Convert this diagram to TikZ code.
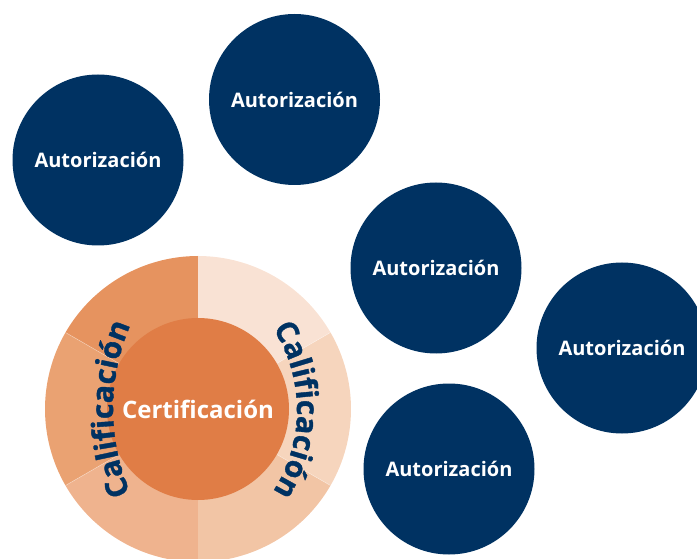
\documentclass[tikz,border=0pt]{standalone}
\usepackage{fontspec}
\setmainfont{Open Sans}
\newfontfamily\calfamily[BoldFeatures={FakeBold=1.2}]{Open Sans}
\usetikzlibrary{decorations.text}
\definecolor{navy}{RGB}{0,50,98}
\definecolor{segTL}{RGB}{230,147,95}
\definecolor{segML}{RGB}{234,162,114}
\definecolor{segBL}{RGB}{239,179,142}
\definecolor{segBR}{RGB}{242,197,165}
\definecolor{segMR}{RGB}{246,213,189}
\definecolor{segTR}{RGB}{249,226,212}
\definecolor{certfill}{RGB}{224,125,70}
\tikzset{
  autcircle/.style={circle, fill=navy, inner sep=0pt, minimum size=171pt,
    text=white, font=\bfseries\fontsize{20}{22}\selectfont},
  certcircle/.style={circle, fill=certfill, inner sep=0pt, minimum size=182pt,
    text=white, font=\bfseries\fontsize{24}{26}\selectfont},
  divider/.style={draw=white, draw opacity=0.35, line width=0.6pt},
  caltext/.style={decorate, decoration={text along path, text align=center,
    text color=navy, text={|\calfamily\bfseries\fontsize{30}{30}\selectfont|Calificación}}}
}
\begin{document}
\begin{tikzpicture}[x=1pt,y=1pt]
\useasboundingbox (0,0) rectangle (697,558);
\clip (0,0) rectangle (697,558);
% ring
\coordinate (rc) at (198,149);
\fill[segTL] (rc) -- ++(90:153) arc (90:150:153) -- cycle;
\fill[segML] (rc) -- ++(150:153) arc (150:210:153) -- cycle;
\fill[segBL] (rc) -- ++(210:153) arc (210:270:153) -- cycle;
\fill[segBR] (rc) -- ++(270:153) arc (270:330:153) -- cycle;
\fill[segMR] (rc) -- ++(330:153) arc (330:390:153) -- cycle;
\fill[segTR] (rc) -- ++(30:153) arc (30:90:153) -- cycle;
\foreach \ang in {30,150,210,330}{
  \path[divider] (rc) ++(\ang:90) -- ++(\ang:63);
}
\node[certcircle] (cert) at (rc) {Certificación};
% curved labels
\coordinate (lc) at (323,149);
\coordinate (rcc) at (147,148);
\path[caltext] (lc) ++(215:210) arc (215:145:210);
\path[caltext] (rcc) ++(40:150) arc (40:-40:150);
% blue circles
\node[autcircle] (a1) at (98,398) {Autorización};
\node[autcircle] (a2) at (294.5,458.5) {Autorización};
\node[autcircle] (a3) at (436,290) {Autorización};
\node[autcircle] (a4) at (622,210) {Autorización};
\node[autcircle] (a5) at (449,89) {Autorización};
\end{tikzpicture}
\end{document}
